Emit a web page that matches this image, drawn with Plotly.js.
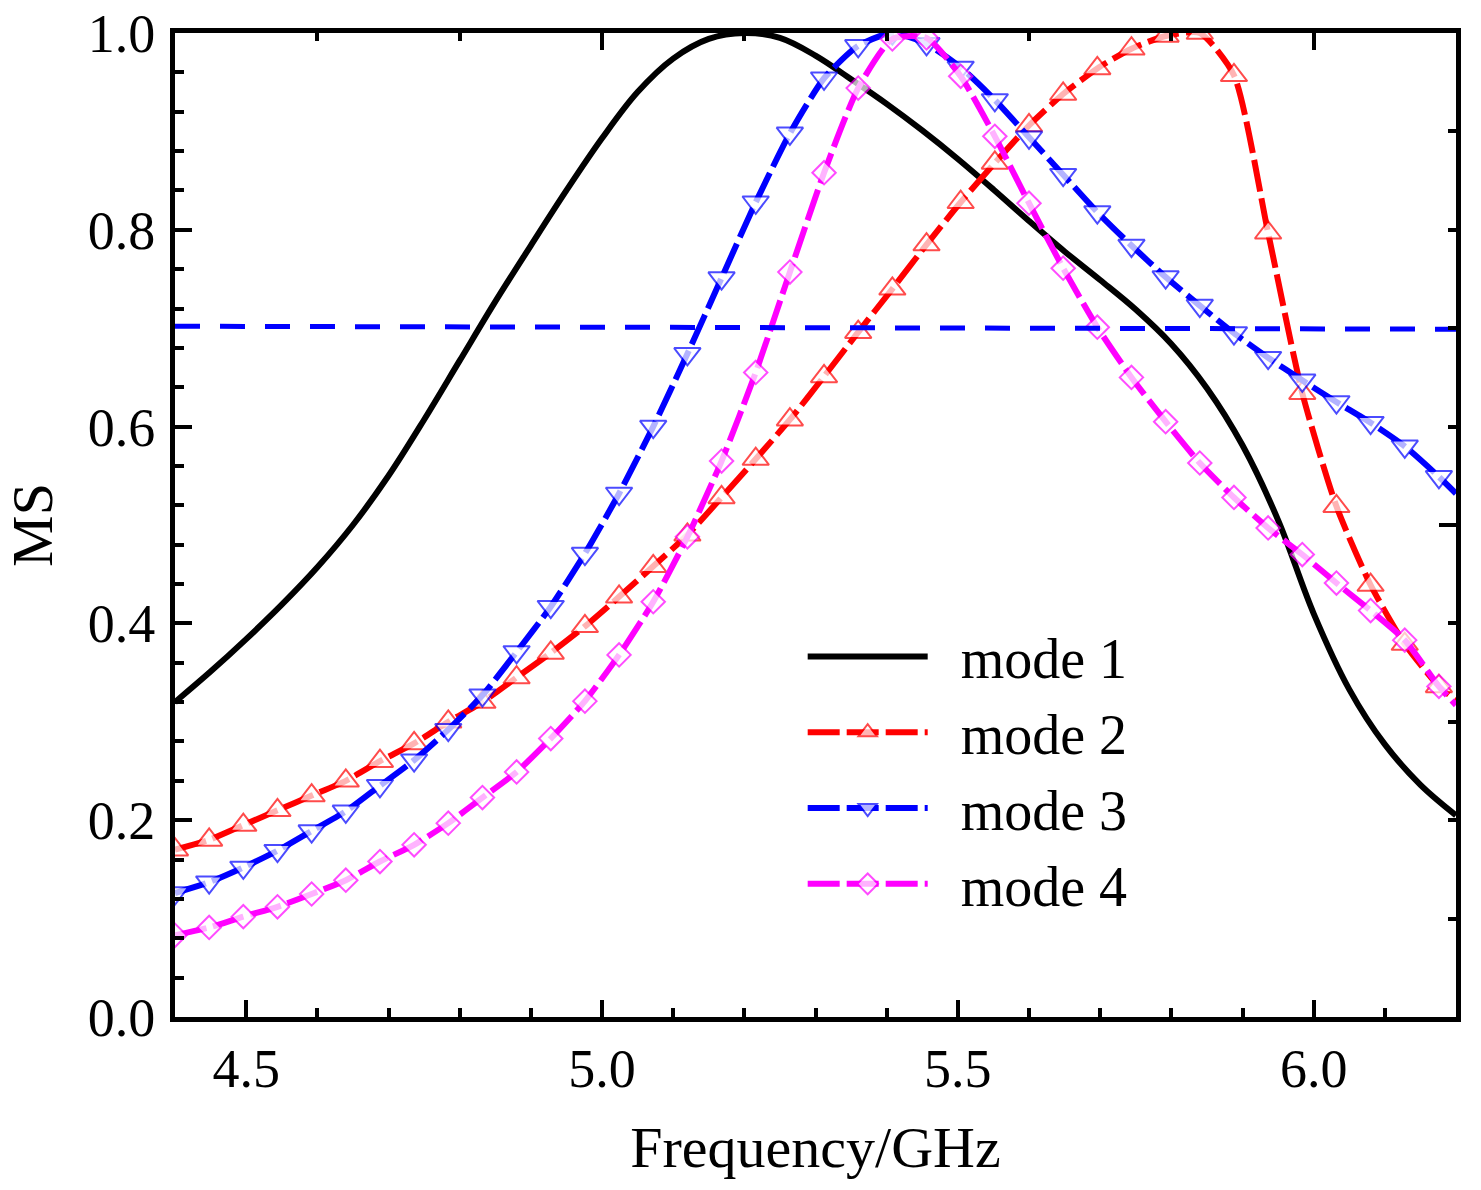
<!DOCTYPE html>
<html>
<head>
<meta charset="utf-8">
<script src="https://cdn.plot.ly/plotly-3.0.1.min.js"></script>
<style>
  html, body { margin: 0; padding: 0; background: #fff; }
  #chart { width: 1481px; height: 1190px; }
</style>
</head>
<body>
<div id="chart"></div>
<script>
// Sampled frequencies (GHz) where the marked modes are read; last point is the plot edge
const freq = [4.400, 4.448, 4.496, 4.544, 4.592, 4.640, 4.688, 4.736, 4.784, 4.832,
              4.880, 4.928, 4.976, 5.024, 5.072, 5.120, 5.168, 5.216, 5.264, 5.312,
              5.360, 5.408, 5.456, 5.504, 5.552, 5.600, 5.648, 5.696, 5.744, 5.792,
              5.840, 5.888, 5.936, 5.984, 6.032, 6.080, 6.128, 6.176, 6.200];

const mode2 = [0.170, 0.180, 0.195, 0.210, 0.225, 0.240, 0.260, 0.278, 0.300, 0.320,
               0.345, 0.370, 0.397, 0.427, 0.458, 0.490, 0.528, 0.567, 0.607, 0.651,
               0.696, 0.740, 0.785, 0.828, 0.868, 0.906, 0.938, 0.964, 0.984, 0.997,
               1.000, 0.957, 0.797, 0.634, 0.519, 0.439, 0.379, 0.336, 0.322];

const mode3 = [0.126, 0.137, 0.152, 0.169, 0.189, 0.209, 0.235, 0.261, 0.292, 0.327,
               0.371, 0.417, 0.471, 0.532, 0.600, 0.674, 0.751, 0.828, 0.898, 0.954,
               0.987, 1.000, 0.989, 0.965, 0.932, 0.894, 0.856, 0.818, 0.784, 0.752,
               0.723, 0.695, 0.670, 0.647, 0.625, 0.604, 0.580, 0.549, 0.532];

const mode4 = [0.083, 0.091, 0.102, 0.112, 0.125, 0.139, 0.158, 0.175, 0.197, 0.223,
               0.249, 0.283, 0.321, 0.368, 0.422, 0.488, 0.565, 0.655, 0.757, 0.858,
               0.944, 0.994, 0.995, 0.956, 0.895, 0.827, 0.761, 0.701, 0.650, 0.605,
               0.563, 0.528, 0.497, 0.470, 0.441, 0.413, 0.383, 0.336, 0.317];

// Mode 1 is a plain line (no markers), read on a 0.05 GHz grid
const freq1 = [4.40, 4.45, 4.50, 4.55, 4.60, 4.65, 4.70, 4.75, 4.80, 4.85,
               4.90, 4.95, 5.00, 5.05, 5.10, 5.15, 5.20, 5.25, 5.30, 5.35,
               5.40, 5.45, 5.50, 5.55, 5.60, 5.65, 5.70, 5.75, 5.80, 5.85,
               5.90, 5.95, 6.00, 6.05, 6.10, 6.15, 6.20];
const mode1 = [0.320, 0.351, 0.384, 0.419, 0.457, 0.500, 0.550, 0.607, 0.667, 0.727,
               0.784, 0.840, 0.893, 0.940, 0.974, 0.994, 1.000, 0.995, 0.977, 0.953,
               0.928, 0.901, 0.872, 0.841, 0.809, 0.778, 0.749, 0.719, 0.684, 0.639,
               0.581, 0.505, 0.410, 0.333, 0.277, 0.236, 0.205];

// Reference level (blue dashed)
const refFreq = [4.40, 6.20];
const refLevel = [0.702, 0.699];

const names = ['mode 1', 'mode 2', 'mode 3', 'mode 4'];

const FONT = 'Liberation Serif, Times New Roman, serif';
const MARKER_N = freq.length - 1;   // the edge point gets no symbol

function markerSizes(size) {
    return freq.map((f, i) => (i < MARKER_N ? size : 0));
}

// en space keeps the legend text clear of the long sample line
const label = n => '\u2002' + n;

const traces = [
    {
        x: freq1, y: mode1, name: label(names[0]), type: 'scatter', mode: 'lines',
        line: { color: '#000000', width: 6, shape: 'spline', smoothing: 1.0 }
    },
    {
        x: freq, y: mode2, name: label(names[1]), type: 'scatter', mode: 'lines+markers',
        line: { color: '#ff0000', width: 6, dash: '32px,7px', shape: 'spline', smoothing: 0.6 },
        marker: { symbol: 'triangle-up', size: markerSizes(23), color: '#ffffff',
                  line: { color: '#ff0000', width: 2 } }
    },
    {
        x: freq, y: mode3, name: label(names[2]), type: 'scatter', mode: 'lines+markers',
        line: { color: '#0000ff', width: 6, dash: '32px,7px', shape: 'spline', smoothing: 0.6 },
        marker: { symbol: 'triangle-down', size: markerSizes(23), color: '#ffffff',
                  line: { color: '#0000ff', width: 2 } }
    },
    {
        x: freq, y: mode4, name: label(names[3]), type: 'scatter', mode: 'lines+markers',
        line: { color: '#ff00ff', width: 6, dash: '32px,7px', shape: 'spline', smoothing: 0.6 },
        marker: { symbol: 'diamond', size: markerSizes(18), color: '#ffffff',
                  line: { color: '#ff00ff', width: 2 } }
    },
    {
        x: refFreq, y: refLevel, type: 'scatter', mode: 'lines', showlegend: false,
        line: { color: '#0000ff', width: 5, dash: '25px,20px' }, hoverinfo: 'skip'
    },
    // carries the top / right frame axes
    {
        x: [refFreq[0]], y: [0], xaxis: 'x2', yaxis: 'y2', type: 'scatter', mode: 'markers',
        marker: { opacity: 0 }, showlegend: false, hoverinfo: 'skip'
    }
];

const axisBase = {
    showline: true, linecolor: '#000', linewidth: 5,
    ticks: 'inside', tickcolor: '#000', tickwidth: 4, ticklen: 17,
    showgrid: false, zeroline: false,
    tickfont: { family: FONT, size: 54, color: '#000' }
};

const layout = {
    width: 1481, height: 1190,
    margin: { l: 175, r: 25, t: 33, b: 173 },
    paper_bgcolor: '#fff', plot_bgcolor: '#fff',
    font: { family: FONT, color: '#000' },
    showlegend: true,
    legend: {
        x: 0.49, y: 0.41, xanchor: 'left', yanchor: 'top',
        bgcolor: 'rgba(0,0,0,0)', borderwidth: 0,
        font: { family: FONT, size: 56, color: '#000' },
        itemwidth: 120, tracegroupgap: 0
    },
    xaxis: Object.assign({}, axisBase, {
        range: [4.4, 6.2], tick0: 4.5, dtick: 0.5, tickformat: '.1f',
        ticklabelstandoff: 0,
        minor: { ticks: 'inside', dtick: 0.1, tick0: 4.5, ticklen: 9, tickwidth: 4, tickcolor: '#000' },
        title: { text: 'Frequency/GHz', font: { family: FONT, size: 58, color: '#000' }, standoff: 30 }
    }),
    yaxis: Object.assign({}, axisBase, {
        range: [0, 1], tick0: 0, dtick: 0.2, tickformat: '.1f',
        ticklabelstandoff: 4,
        minor: { ticks: 'inside', dtick: 0.04, tick0: 0, ticklen: 9, tickwidth: 4, tickcolor: '#000' },
        title: { text: 'MS', font: { family: FONT, size: 58, color: '#000' }, standoff: 28 }
    }),
    xaxis2: Object.assign({}, axisBase, {
        overlaying: 'x', side: 'top', anchor: 'y2', range: [4.4, 6.2],
        tick0: 5.0, dtick: 1, showticklabels: false,
        minor: { ticks: 'inside', dtick: 0.2, tick0: 5.0, ticklen: 8, tickwidth: 4, tickcolor: '#000' }
    }),
    yaxis2: Object.assign({}, axisBase, {
        overlaying: 'y', side: 'right', anchor: 'x2', range: [0, 1],
        tick0: 0, dtick: 0.5, showticklabels: false,
        minor: { ticks: 'inside', dtick: 0.1, tick0: 0, ticklen: 8, tickwidth: 4, tickcolor: '#000' }
    })
};

Plotly.newPlot('chart', traces, layout, { displayModeBar: false, staticPlot: true });
</script>
</body>
</html>
